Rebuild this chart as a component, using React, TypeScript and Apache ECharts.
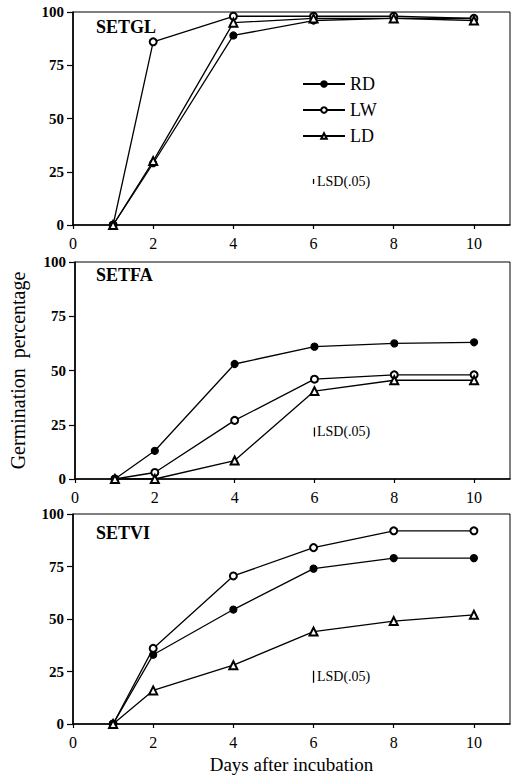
import React, { useEffect, useRef } from "react";
import * as echarts from "echarts";

const days = [1, 2, 4, 6, 8, 10];
const xTicks = [0, 2, 4, 6, 8, 10];
const panelNames = ["SETGL", "SETFA", "SETVI"];
const treatments = ["RD", "LW", "LD"];

const setglRD = [0, 29, 89, 96, 97, 97];
const setglLW = [0, 86, 98, 98, 98, 97];
const setglLD = [0, 30, 95, 97, 97, 96];

const setfaRD = [0, 13, 53, 61, 62.5, 63];
const setfaLW = [0, 3, 27, 46, 48, 48];
const setfaLD = [0, 0, 8.5, 40.5, 45.5, 45.5];

const setviRD = [0, 33, 54.5, 74, 79, 79];
const setviLW = [0, 36, 70.5, 84, 92, 92];
const setviLD = [0, 16, 28, 44, 49, 52];

// LSD(.05) bars: [x, yLow, yHigh] per panel
const lsdBars = [
  [6, 19.2, 21.6],
  [6, 19.6, 23.7],
  [6, 19.7, 25.4],
];

const panelData = [
  [setglRD, setglLW, setglLD],
  [setfaRD, setfaLW, setfaLD],
  [setviRD, setviLW, setviLD],
];

const FONT = "Liberation Serif";

export default function App() {
  const ref = useRef<HTMLDivElement>(null);
  useEffect(() => {
    if (!ref.current) return;
    const chart = echarts.init(ref.current, null, { renderer: "svg" });

    const grids = [
      { left: 73, right: 4, top: 12, height: 213 },
      { left: 73, right: 4, top: 262, height: 217 },
      { left: 73, right: 4, top: 514, height: 210 },
    ].map((g) => ({ ...g, show: true, borderColor: "#000", borderWidth: 1, containLabel: false }));

    const xAxes = grids.map((_, i) => ({
      type: "value",
      gridIndex: i,
      min: 0,
      max: 10.9,
      splitLine: { show: false },
      axisLine: { show: true, lineStyle: { color: "#000", width: 1.6 } },
      axisTick: { show: true, inside: false, length: 4, customValues: xTicks, lineStyle: { color: "#000", width: 1.2 } },
      axisLabel: { customValues: xTicks, color: "#000", fontFamily: FONT, fontSize: 16, margin: 10 },
      ...(i === 2
        ? {
            name: "Days after incubation",
            nameLocation: "middle",
            nameGap: 31,
            nameTextStyle: { color: "#000", fontFamily: FONT, fontSize: 19 },
          }
        : {}),
    }));

    const yAxes = grids.map((_, i) => ({
      type: "value",
      gridIndex: i,
      min: 0,
      max: 100,
      interval: 25,
      splitLine: { show: false },
      axisLine: { show: true, lineStyle: { color: "#000", width: 1.6 } },
      axisTick: { show: true, inside: false, length: 6, lineStyle: { color: "#000", width: 1.2 } },
      axisLabel: { color: "#000", fontFamily: FONT, fontSize: 15, fontWeight: "bold", margin: 9 },
      ...(i === 1
        ? {
            name: "Germination  percentage",
            nameLocation: "middle",
            nameRotate: 90,
            nameGap: 47,
            nameTextStyle: { color: "#000", fontFamily: FONT, fontSize: 20 },
          }
        : {}),
    }));

    const symbols = ["circle", "emptyCircle", "emptyTriangle"];
    const sizes = [7, 7, 8];
    const series: any[] = [];
    panelData.forEach((panel, pi) => {
      panel.forEach((vals, ti) => {
        series.push({
          type: "line",
          name: treatments[ti],
          xAxisIndex: pi,
          yAxisIndex: pi,
          data: days.map((d, k) => [d, vals[k]]),
          symbol: symbols[ti],
          symbolSize: sizes[ti],
          showAllSymbol: true,
          lineStyle: { color: "#000", width: 1.3 },
          itemStyle: { color: "#000", borderColor: "#000", borderWidth: 1.2 },
          z: 3 + ti,
        });
      });
      const b = lsdBars[pi];
      series.push({
        type: "line",
        name: "lsd" + pi,
        xAxisIndex: pi,
        yAxisIndex: pi,
        data: [
          [b[0], b[1]],
          [b[0], b[2]],
        ],
        symbol: "none",
        lineStyle: { color: "#000", width: 1.3 },
        silent: true,
      });
    });

    const titles = panelNames.map((t, i) => ({
      text: t,
      left: 96,
      top: [18, 266, 524][i],
      padding: 0,
      textStyle: { color: "#000", fontFamily: FONT, fontWeight: "bold", fontSize: 18 },
    }));

    const lsdTextY = [182, 432, 677];

    chart.setOption({
      animation: false,
      backgroundColor: "#fff",
      title: titles,
      grid: grids,
      xAxis: xAxes,
      yAxis: yAxes,
      legend: {
        data: treatments,
        orient: "vertical",
        left: 302,
        top: 74,
        padding: 0,
        itemWidth: 42,
        itemHeight: 7,
        itemGap: 6,
        textStyle: { color: "#000", fontFamily: FONT, fontSize: 18, lineHeight: 20 },
        selectedMode: false,
      },
      graphic: lsdTextY.map((y) => ({
        type: "text",
        left: 317,
        top: y - 8,
        style: { text: "LSD(.05)", fill: "#000", font: `14px "${FONT}"` },
      })),
      series,
    });
    return () => chart.dispose();
  }, []);
  return <div ref={ref} style={{ position: "absolute", left: 0, top: 0, width: 514, height: 775 }} />;
}
